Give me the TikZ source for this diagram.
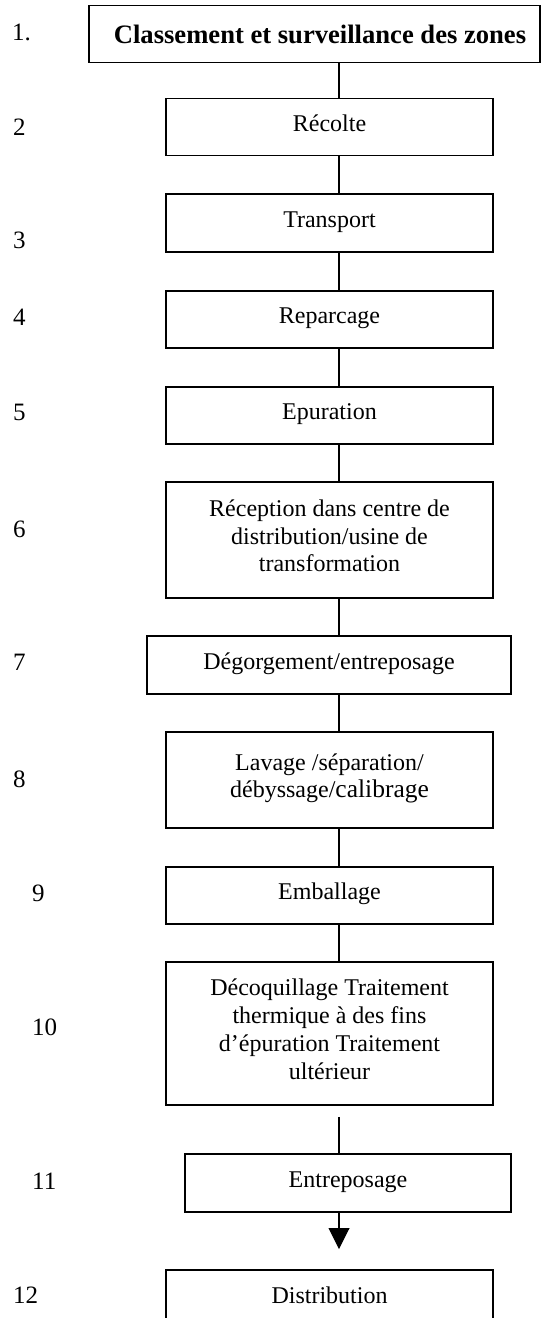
\documentclass[tikz,border=0pt]{standalone}
\usepackage{fontspec}
\setmainfont{Liberation Serif}
\usetikzlibrary{arrows.meta}

\newcommand\stepfont{\fontsize{24}{27.7}\selectfont}
\newcommand\headfont{\fontsize{26.6}{30}\selectfont\bfseries}
\newcommand\numfont{\fontsize{25}{28}\selectfont}
% fixed-height struts so every label sits a little above its box centre
\newcommand\hi{\rule{0pt}{22pt}}
\newcommand\lo{\rule[-14pt]{0pt}{14pt}}

\tikzset{
  stepbox/.style={draw, line width=1.6pt, minimum width=327pt, minimum height=57pt,
    inner sep=0pt, align=center, font=\stepfont},
  stepnum/.style={anchor=base west, inner sep=0pt, font=\numfont},
  link/.style={line width=1.3pt},
}

\begin{document}
\begin{tikzpicture}[x=1pt, y=-1pt]
  \path[use as bounding box, clip] (0,0) rectangle (541,1318);

  % process boxes
  \node[stepbox, minimum width=451pt, font=\headfont] (b1) at (314.5,34)
    {\hspace*{11pt}Classement et surveillance des zones};
  \node[stepbox] (b2) at (329.5,127) {\hi Récolte\lo};
  \node[stepbox, minimum height=58pt] (b3) at (329.5,223) {\hi Transport\lo};
  \node[stepbox] (b4) at (329.5,319.5) {\hi Reparcage\lo};
  \node[stepbox] (b5) at (329.5,415.5) {\hi Epuration\lo};
  \node[stepbox, minimum height=116pt] (b6) at (329.5,540)
    {\hi Réception dans centre de\\distribution/usine de\\transformation\lo};
  \node[stepbox, minimum width=364pt, minimum height=58pt] (b7) at (329,665)
    {\hi Dégorgement/entreposage\lo};
  \node[stepbox, minimum height=96pt] (b8) at (329.5,780)
    {\hi Lavage /séparation/\\débyssage/{\fontsize{25.5}{27.7}\selectfont calibrage}\lo};
  \node[stepbox] (b9) at (329.5,895.5) {\hi Emballage\lo};
  \node[stepbox, minimum height=143pt] (b10) at (329.5,1033.5)
    {\hi Décoquillage Traitement\\thermique à des fins\\d’épuration Traitement\\ultérieur\lo};
  \node[stepbox, minimum width=326pt, minimum height=58pt] (b11) at (348,1183)
    {\hi Entreposage\lo};
  \node[stepbox, minimum height=58pt] (b12) at (329.5,1299) {\hi Distribution\lo};

  % step numbers
  \node[stepnum] (n1) at (12,40) {1.};
  \node[stepnum] (n2) at (13,135) {2};
  \node[stepnum] (n3) at (13,248) {3};
  \node[stepnum] (n4) at (13,325) {4};
  \node[stepnum] (n5) at (13,420) {5};
  \node[stepnum] (n6) at (13,537) {6};
  \node[stepnum] (n7) at (13,670) {7};
  \node[stepnum] (n8) at (13,787) {8};
  \node[stepnum] (n9) at (32,901) {9};
  \node[stepnum] (n10) at (32,1035) {10};
  \node[stepnum] (n11) at (32,1189) {11};
  \node[stepnum] (n12) at (13,1303) {12};

  % vertical flow line
  \coordinate (ax) at (339,0);
  \draw[link] (b1.south -| ax) -- (b2.north -| ax);
  \draw[link] (b2.south -| ax) -- (b3.north -| ax);
  \draw[link] (b3.south -| ax) -- (b4.north -| ax);
  \draw[line width=2pt] (b4.south -| ax) -- (b5.north -| ax);
  \draw[link] (b5.south -| ax) -- (b6.north -| ax);
  \draw[link] (b6.south -| ax) -- (b7.north -| ax);
  \draw[link] (b7.south -| ax) -- (b8.north -| ax);
  \draw[link] (b8.south -| ax) -- (b9.north -| ax);
  \draw[link] (b9.south -| ax) -- (b10.north -| ax);
  \draw[link] ([yshift=-11pt]b10.south -| ax) -- (b11.north -| ax);
  \draw[link, -{Triangle[width=20.7pt,length=21pt]}]
    (b11.south -| ax) -- ([yshift=20pt]b12.north -| ax);
\end{tikzpicture}
\end{document}
